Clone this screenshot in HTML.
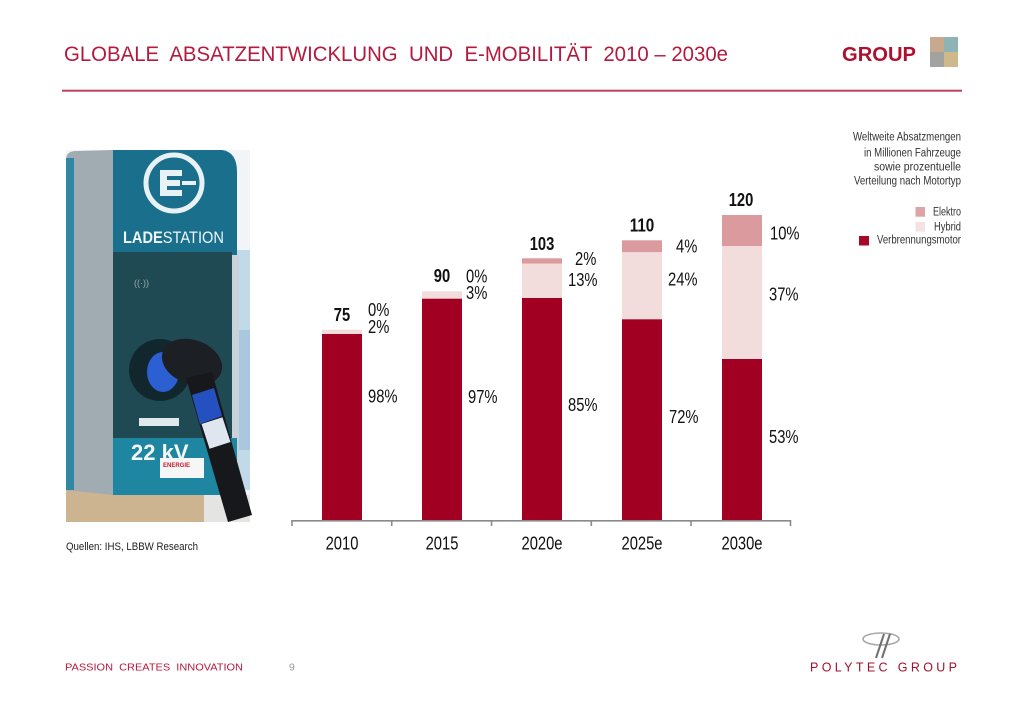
<!DOCTYPE html>
<html>
<head>
<meta charset="utf-8">
<style>
html,body{margin:0;padding:0;background:#fff;}
body{width:1024px;height:709px;overflow:hidden;}
svg{display:block;}
text{font-family:"Liberation Sans Narrow","Liberation Sans",sans-serif;}
.pre{white-space:pre;}
</style>
</head>
<body>
<svg width="1024" height="709" viewBox="0 0 1024 709" xmlns="http://www.w3.org/2000/svg">
<rect x="0" y="0" width="1024" height="709" fill="#ffffff"/>

<!-- Header -->
<text class="pre" x="64" y="61" font-size="21" fill="#B41A3E" textLength="664" lengthAdjust="spacingAndGlyphs">GLOBALE  ABSATZENTWICKLUNG  UND  E-MOBILITÄT  2010 – 2030e</text>
<text x="842" y="61" font-size="20" font-weight="bold" fill="#B0102F" textLength="74" lengthAdjust="spacingAndGlyphs">GROUP</text>
<rect x="930" y="37" width="14" height="15" fill="#C9A98D"/>
<rect x="944" y="37" width="14" height="15" fill="#8DB3B4"/>
<rect x="930" y="52" width="14" height="15" fill="#A2A2A0"/>
<rect x="944" y="52" width="14" height="15" fill="#CDB98A"/>
<rect x="62" y="89.7" width="900" height="2" fill="#C0405F"/>

<!-- Photo -->
<g>
  <rect x="66" y="150" width="184" height="372" fill="#f2f5f7"/>
  <rect x="234" y="250" width="16" height="240" fill="#c2d9ea"/>
  <rect x="234" y="330" width="16" height="120" fill="#a9c8e0"/>
  <rect x="66" y="490" width="138" height="32" fill="#cdb491"/>
  <rect x="204" y="495" width="46" height="27" fill="#e4e4e2"/>
  <path d="M66 160 Q66 151 76 151 L113 150 L113 495 L66 490 Z" fill="#a0abb2"/>
  <rect x="66" y="158" width="8" height="332" fill="#2f87a3"/>
  <path d="M113 150 L222 150 Q237 152 237 172 L237 495 L113 495 Z" fill="#1a6f8c"/>
  <rect x="231" y="255" width="8" height="215" fill="#c9d2d8"/>
  <rect x="113" y="252" width="119" height="186" fill="#1f4a54"/>
  <circle cx="174" cy="183" r="28" fill="none" stroke="#e8f2f5" stroke-width="5"/>
  <path d="M160 170 h22 v6 h-15 v4 h13 v6 h-13 v4 h15 v6 h-22 Z" fill="#e8f2f5"/>
  <rect x="182" y="181" width="14" height="4" fill="#e8f2f5"/>
  <text x="123" y="243" font-size="17" fill="#eef6f8" textLength="101" lengthAdjust="spacingAndGlyphs" font-family="Liberation Sans, sans-serif"><tspan font-weight="bold">LADE</tspan>STATION</text>
  <text x="134" y="286" font-size="9" fill="#9aa8ad" font-family="Liberation Sans, sans-serif">((·))</text>
  <rect x="113" y="438" width="124" height="57" fill="#1e86a1"/>
  <rect x="139" y="418" width="40" height="8" fill="#dfe8ea"/>
  <circle cx="160" cy="370" r="31" fill="#12272d"/>
  <ellipse cx="163" cy="372" rx="16" ry="20" fill="#2c5fd2"/>
  <text x="131" y="460" font-size="22" font-weight="bold" fill="#f4f8fa" font-family="Liberation Sans, sans-serif">22 kV</text>
  <rect x="160" y="458" width="44" height="20" fill="#f6f6f6"/>
  <text x="163" y="467" font-size="6" font-weight="bold" fill="#c02030" font-family="Liberation Sans, sans-serif">ENERGIE</text>
  <ellipse cx="192" cy="362" rx="31" ry="22" transform="rotate(20 192 362)" fill="#1c1f23"/>
  <path d="M186 378 L212 372 L252 515 L228 522 Z" fill="#16181b"/>
  <path d="M192 395 L214 388 L222 416 L200 424 Z" fill="#2550c0"/>
  <rect x="205" y="420" width="22" height="26" transform="rotate(-18 216 433)" fill="#dfe6f0"/>
</g>

<!-- Legend text -->
<g font-size="11.5" fill="#333333" text-anchor="end">
  <text x="961" y="140.7" textLength="108" lengthAdjust="spacingAndGlyphs">Weltweite Absatzmengen</text>
  <text x="961" y="156.3" textLength="97" lengthAdjust="spacingAndGlyphs">in Millionen Fahrzeuge</text>
  <text x="961" y="170.7" textLength="87" lengthAdjust="spacingAndGlyphs">sowie prozentuelle</text>
  <text x="961" y="184.5" textLength="107" lengthAdjust="spacingAndGlyphs">Verteilung nach Motortyp</text>
  <text x="961" y="215.7" textLength="28" lengthAdjust="spacingAndGlyphs">Elektro</text>
  <text x="961" y="230.7" textLength="27" lengthAdjust="spacingAndGlyphs">Hybrid</text>
  <text x="961" y="243.5" textLength="84" lengthAdjust="spacingAndGlyphs">Verbrennungsmotor</text>
</g>
<rect x="915.5" y="207" width="9.5" height="9.7" fill="#DDA4A6"/>
<rect x="915.5" y="222" width="9.5" height="9.7" fill="#F5E3E3"/>
<rect x="859" y="236" width="10" height="9.5" fill="#A50A2B"/>

<!-- Bars -->
<g>
  <rect x="322" y="329.7" width="40" height="4.3" fill="#F2DCDC"/>
  <rect x="322" y="334" width="40" height="186.7" fill="#A10022"/>
  <rect x="422" y="291.3" width="40" height="7.4" fill="#F2DCDC"/>
  <rect x="422" y="298.7" width="40" height="222" fill="#A10022"/>
  <rect x="522" y="258.3" width="40" height="5.4" fill="#DA9A9E"/>
  <rect x="522" y="263.7" width="40" height="34.3" fill="#F2DCDC"/>
  <rect x="522" y="298" width="40" height="222.7" fill="#A10022"/>
  <rect x="622" y="240.3" width="40" height="12" fill="#DA9A9E"/>
  <rect x="622" y="252.3" width="40" height="67" fill="#F2DCDC"/>
  <rect x="622" y="319.3" width="40" height="201.4" fill="#A10022"/>
  <rect x="722" y="215" width="40" height="31" fill="#DA9A9E"/>
  <rect x="722" y="246" width="40" height="113" fill="#F2DCDC"/>
  <rect x="722" y="359" width="40" height="161.7" fill="#A10022"/>
</g>

<!-- Axis -->
<g stroke="#8a8a8a" stroke-width="1.6" fill="none">
  <line x1="291.5" y1="520.8" x2="791" y2="520.8"/>
  <line x1="292" y1="520" x2="292" y2="526"/>
  <line x1="391.7" y1="520" x2="391.7" y2="526"/>
  <line x1="491.5" y1="520" x2="491.5" y2="526"/>
  <line x1="591.3" y1="520" x2="591.3" y2="526"/>
  <line x1="691" y1="520" x2="691" y2="526"/>
  <line x1="790.5" y1="520" x2="790.5" y2="526"/>
</g>

<!-- Totals -->
<g font-size="18" font-weight="bold" fill="#111" text-anchor="middle">
  <text x="342" y="320.8" textLength="16.4" lengthAdjust="spacingAndGlyphs">75</text>
  <text x="442" y="282.2" textLength="16.4" lengthAdjust="spacingAndGlyphs">90</text>
  <text x="542" y="249.8" textLength="24.6" lengthAdjust="spacingAndGlyphs">103</text>
  <text x="642" y="231.5" textLength="24.6" lengthAdjust="spacingAndGlyphs">110</text>
  <text x="741" y="205.8" textLength="24.6" lengthAdjust="spacingAndGlyphs">120</text>
</g>

<!-- Percentages -->
<g font-size="18" fill="#111">
  <text x="368" y="315.8" textLength="21.3" lengthAdjust="spacingAndGlyphs">0%</text>
  <text x="368" y="333.2" textLength="21.3" lengthAdjust="spacingAndGlyphs">2%</text>
  <text x="368" y="402.5" textLength="29.5" lengthAdjust="spacingAndGlyphs">98%</text>

  <text x="466" y="282.5" textLength="21.3" lengthAdjust="spacingAndGlyphs">0%</text>
  <text x="466" y="299.2" textLength="21.3" lengthAdjust="spacingAndGlyphs">3%</text>
  <text x="468" y="403.2" textLength="29.5" lengthAdjust="spacingAndGlyphs">97%</text>

  <text x="575" y="264.8" textLength="21.3" lengthAdjust="spacingAndGlyphs">2%</text>
  <text x="568" y="285.8" textLength="29.5" lengthAdjust="spacingAndGlyphs">13%</text>
  <text x="568" y="410.8" textLength="29.5" lengthAdjust="spacingAndGlyphs">85%</text>

  <text x="676" y="252.5" textLength="21.3" lengthAdjust="spacingAndGlyphs">4%</text>
  <text x="668" y="285.5" textLength="29.5" lengthAdjust="spacingAndGlyphs">24%</text>
  <text x="669" y="423.2" textLength="29.5" lengthAdjust="spacingAndGlyphs">72%</text>

  <text x="770" y="239.3" textLength="29.5" lengthAdjust="spacingAndGlyphs">10%</text>
  <text x="769" y="300.5" textLength="29.5" lengthAdjust="spacingAndGlyphs">37%</text>
  <text x="769" y="443.2" textLength="29.5" lengthAdjust="spacingAndGlyphs">53%</text>
</g>

<!-- X labels -->
<g font-size="18" fill="#111" text-anchor="middle">
  <text x="342" y="549.5" textLength="32.8" lengthAdjust="spacingAndGlyphs">2010</text>
  <text x="442" y="549.5" textLength="32.8" lengthAdjust="spacingAndGlyphs">2015</text>
  <text x="542" y="549.5" textLength="41" lengthAdjust="spacingAndGlyphs">2020e</text>
  <text x="642" y="549.5" textLength="41" lengthAdjust="spacingAndGlyphs">2025e</text>
  <text x="742" y="549.5" textLength="41" lengthAdjust="spacingAndGlyphs">2030e</text>
</g>

<text x="66" y="550" font-size="11" fill="#222" textLength="132" lengthAdjust="spacingAndGlyphs">Quellen: IHS, LBBW Research</text>

<!-- Footer -->
<text class="pre" x="65" y="670.7" font-size="10.5" fill="#B41A3E" textLength="178" lengthAdjust="spacingAndGlyphs">PASSION  CREATES  INNOVATION</text>
<text x="289" y="670.7" font-size="10.5" fill="#999">9</text>
<g>
  <ellipse cx="881" cy="639" rx="18" ry="6" fill="none" stroke="#a8a8a8" stroke-width="1.6"/>
  <line x1="884" y1="634" x2="876" y2="658" stroke="#6e6e6e" stroke-width="2"/>
  <line x1="890" y1="634" x2="882" y2="658" stroke="#6e6e6e" stroke-width="2"/>
</g>
<text x="810" y="671.5" font-size="12.5" fill="#A0102E" textLength="147" lengthAdjust="spacing" font-family="Liberation Sans, sans-serif">POLYTEC GROUP</text>
</svg>
</body>
</html>
